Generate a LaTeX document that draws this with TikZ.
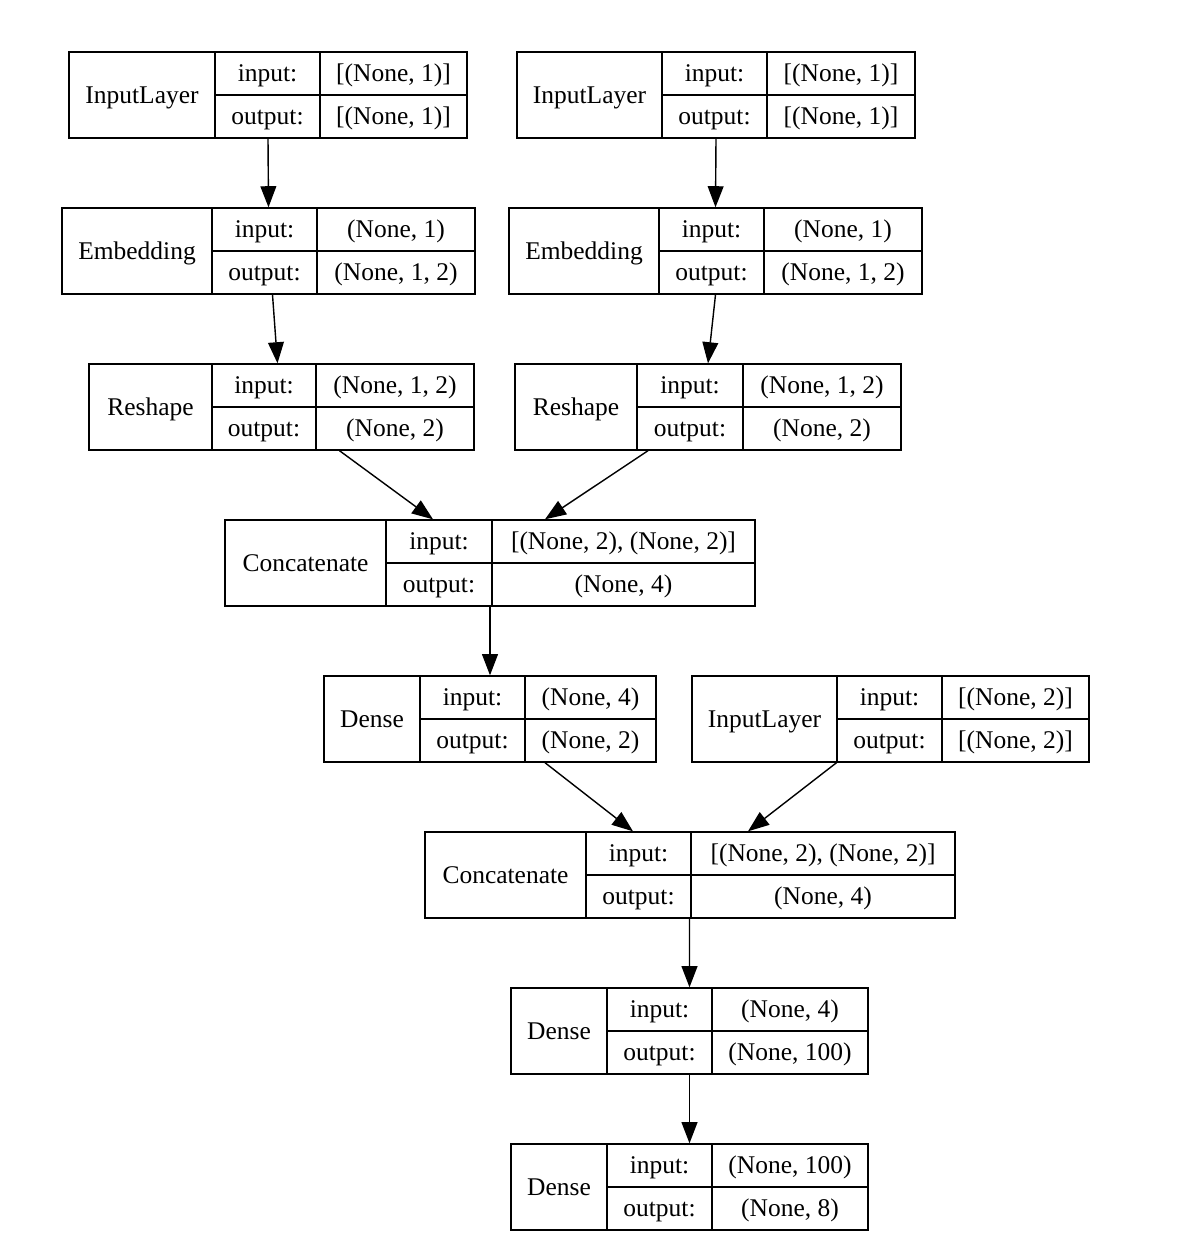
\documentclass[tikz,border=0pt]{standalone}
\usepackage{fontspec}
\setmainfont{Liberation Serif}
\usetikzlibrary{arrows.meta, calc, positioning}

% one layer record: name, left, top, right, divider 1, divider 2, title, input, output
\newcommand{\layerbox}[9]{%
\node[layer, minimum width={(#4-#2)*0.02cm}] (#1) at ({(#2+#4)/2},{#3+43}) {};
\draw ({#5},{#3}) -- ({#5},{#3+86});
\draw ({#6},{#3}) -- ({#6},{#3+86});
\draw ({#5},{#3+43}) -- ({#4},{#3+43});
\node[txt] (#1-name) at ({(#2+#5)/2},{#3+43}) {#7};
\node[txt] (#1-inl) at ({(#5+#6)/2},{#3+21.5}) {input:};
\node[txt] (#1-outl) at ({(#5+#6)/2},{#3+64.5}) {output:};
\node[txt] (#1-in) at ({(#6+#4)/2},{#3+21.5}) {#8};
\node[txt] (#1-out) at ({(#6+#4)/2},{#3+64.5}) {#9};
}

\begin{document}
\begin{tikzpicture}[x=0.02cm, y=-0.02cm, line width=0.8pt,
  layer/.style={draw, inner sep=0pt, minimum height=1.72cm},
  txt/.style={inner sep=0pt, text height=11.2pt, text depth=2pt, font=\fontsize{14.5}{17}\selectfont},
  link/.style={-{Triangle[length=12pt,width=9pt]}}]
\useasboundingbox[fill=white] (0,0) rectangle (1186,1254);

\layerbox{in1}{69}{52}{467}{215}{320}{InputLayer}{[(None, 1)]}{[(None, 1)]}
\layerbox{in2}{517}{52}{915}{662}{767}{InputLayer}{[(None, 1)]}{[(None, 1)]}
\layerbox{emb1}{62}{208}{475}{212}{317}{Embedding}{(None, 1)}{(None, 1, 2)}
\layerbox{emb2}{509}{208}{922}{659}{764}{Embedding}{(None, 1)}{(None, 1, 2)}
\layerbox{resh1}{89}{364}{474}{212}{316}{Reshape}{(None, 1, 2)}{(None, 2)}
\layerbox{resh2}{515}{364}{901}{637}{743}{Reshape}{(None, 1, 2)}{(None, 2)}
\layerbox{cat1}{225}{520}{755}{386}{492}{Concatenate}{[(None, 2), (None, 2)]}{(None, 4)}
\layerbox{dense1}{324}{676}{656}{420}{525}{Dense}{(None, 4)}{(None, 2)}
\layerbox{in3}{692}{676}{1089}{837}{942}{InputLayer}{[(None, 2)]}{[(None, 2)]}
\layerbox{cat2}{425}{832}{955}{586}{691}{Concatenate}{[(None, 2), (None, 2)]}{(None, 4)}
\layerbox{dense2}{511}{988}{868}{607}{712}{Dense}{(None, 4)}{(None, 100)}
\layerbox{dense3}{511}{1144}{868}{607}{712}{Dense}{(None, 100)}{(None, 8)}

\draw[link] (in1.south) -- (emb1.north);
\draw[link] (in2.south) -- (emb2.north);
\draw[link] ($(emb1.south)+(4,0)$) -- ($(resh1.north)+(-4,0)$);
\draw[link] (emb2.south) -- (resh2.north);
\draw[link] ($(resh1.south)+(58,0)$) -- ($(cat1.north)+(-57,0)$);
\draw[link] ($(resh2.south)+(-60,0)$) -- ($(cat1.north)+(55,0)$);
\draw[link] (cat1.south) -- (dense1.north);
\draw[link] ($(dense1.south)+(55,0)$) -- ($(cat2.north)+(-57,0)$);
\draw[link] ($(in3.south)+(-54,0)$) -- ($(cat2.north)+(58,0)$);
\draw[link] ($(cat2.south)+(-0.5,0)$) -- (dense2.north);
\draw[link] (dense2.south) -- (dense3.north);
\end{tikzpicture}
\end{document}
